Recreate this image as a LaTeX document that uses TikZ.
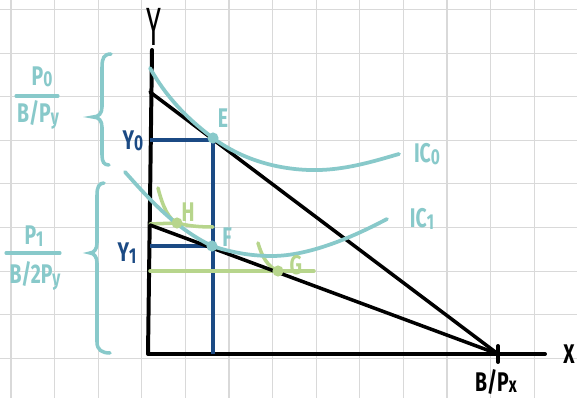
\documentclass[tikz,border=0pt]{standalone}
\usepackage{fontspec}
\setmainfont{Fira Sans}
\definecolor{tealc}{HTML}{88C9CA}
\definecolor{navyc}{HTML}{1B4A84}
\definecolor{greenc}{HTML}{B7D58C}
\definecolor{gridc}{HTML}{D9D9D9}
\newcommand{\hw}[1]{\scalebox{0.72}[1]{#1}}
\newcommand{\sbs}[1]{\raisebox{-0.05em}{\scalebox{0.8}{#1}}}
\begin{document}
\begin{tikzpicture}[x=0.03cm,y=-0.03cm,
  gridline/.style={draw=gridc,line width=1pt},
  axisline/.style={draw=black,line width=3.4pt,line cap=round,line join=round},
  budget/.style={draw=black,line width=3pt,line cap=round},
  iccurve/.style={draw=tealc,line width=3.2pt,line cap=round},
  navyline/.style={draw=navyc,line width=3pt},
  greenline/.style={draw=greenc,line width=3pt,line cap=round},
  brace/.style={draw=tealc,line width=3pt,line cap=round},
  dotp/.style={circle,fill=#1,inner sep=0pt,minimum size=9.5pt},
  lbl/.style={inner sep=0pt,font=\fontsize{23}{23}\selectfont\bfseries},
]
\useasboundingbox (0,0) rectangle (577,398);
\fill[white] (0,0) rectangle (577,398);
% grid
\foreach \k in {0,...,13} \draw[gridline] ({11+43.6*\k},0) -- ({11+43.6*\k},398);
\foreach \k in {0,...,9} \draw[gridline] (0,{9.5+43.6*\k}) -- (577,{9.5+43.6*\k});

% key coordinates
\coordinate (ytop) at (152,50);
\coordinate (O) at (148,354);
\coordinate (xend) at (545,354);
\coordinate (bx) at (498,354);
\coordinate (bxt) at (498,346);
\coordinate (bxb) at (498,362);
\coordinate (b1) at (150,92);
\coordinate (b2) at (150,225);
\coordinate (E) at (213,138);
\coordinate (F) at (212,246);
\coordinate (H) at (177,223);
\coordinate (G) at (278,271);
\coordinate (y0) at (150,140);
\coordinate (y1) at (150,246);
\coordinate (Ebase) at (213,354);
\coordinate (Ey) at (213,140);
\coordinate (Fy) at (212,246);
\coordinate (gl) at (150,271);
\coordinate (gr) at (314,271);
\coordinate (hl) at (150,224);

% axes
\draw[axisline] (ytop) -- (O) -- (xend);
\draw[axisline] (bxt) -- (bxb);

% navy guide lines
\draw[navyline] (y0) -- (Ey) -- (Ebase);
\draw[navyline] (y1) -- (Fy);

% green lines
\draw[greenline] (hl) -- (H);
\draw[greenline] (gl) -- (gr);
\draw[greenline] (158,188) .. controls (163,208) and (169,219) .. (H) .. controls (188,226) and (200,227) .. (213,227);
\draw[greenline] (258,243) .. controls (262,257) and (268,267) .. (G);

% budget lines
\draw[budget] (b1) -- (bx);
\draw[budget] (b2) -- (bx);

% indifference curves
\draw[iccurve] (150,68) .. controls (165,95) and (185,117) .. (E)
  .. controls (245,162) and (285,171) .. (320,170)
  .. controls (350,169) and (378,160) .. (399,154);
\draw[iccurve] (125,172) .. controls (150,200) and (175,228) .. (F)
  .. controls (230,252) and (250,256) .. (272,256)
  .. controls (310,256) and (355,236) .. (387,219);

% points
\node[dotp=tealc] (pE) at (E) {};
\node[dotp=tealc] (pF) at (F) {};
\node[dotp=greenc] (pH) at (H) {};
\node[dotp=greenc] (pG) at (G) {};

% braces
\draw[brace] (111,54) .. controls (104,54) and (102,58) .. (102,67) -- (102,107)
  .. controls (102,113) and (99,117) .. (93,117)
  .. controls (99,117) and (102,121) .. (102,127) -- (102,155)
  .. controls (102,162) and (104,165) .. (109,165);
\draw[brace] (104,183) .. controls (99,183) and (97,187) .. (97,195) -- (97,243)
  .. controls (97,249) and (94,253) .. (90,253)
  .. controls (94,253) and (97,257) .. (97,263) -- (97,342)
  .. controls (97,350) and (102,353) .. (110,353);

% labels
\node[lbl,font=\fontsize{46}{46}\selectfont] (lY) at (154,27) {\scalebox{0.5}[1]{Y}};
\node[lbl] (lX) at (569,354) {\hw{X}};
\node[lbl] (lBx) at (496,382) {\hw{B/P\sbs{x}}};
\node[lbl,text=tealc] (lE) at (223,118) {\hw{E}};
\node[lbl,text=tealc] (lF) at (227,237) {\hw{F}};
\node[lbl,text=greenc] (lH) at (188,212) {\hw{H}};
\node[lbl,text=greenc] (lG) at (296,265) {\hw{G}};
\node[lbl,text=tealc] (lIC0) at (427,154) {\hw{IC\sbs{0}}};
\node[lbl,text=tealc] (lIC1) at (422,219) {\hw{IC\sbs{1}}};
\node[lbl,text=navyc] (lY0) at (133,141) {\hw{Y\sbs{0}}};
\node[lbl,text=navyc] (lY1) at (127,253) {\hw{Y\sbs{1}}};

\node[lbl,text=tealc] (lP0) at (42,77) {\hw{P\sbs{0}}};
\draw[brace,line width=2.6pt] (16,96) -- (58,96);
\node[lbl,text=tealc] (lBPy) at (38,115) {\hw{B/P\sbs{y}}};
\node[lbl,text=tealc] (lP1) at (34,236) {\hw{P\sbs{1}}};
\draw[brace,line width=2.6pt] (6,253) -- (60,253);
\node[lbl,text=tealc] (lB2Py) at (35,276) {\hw{B/2P\sbs{y}}};
\end{tikzpicture}
\end{document}
